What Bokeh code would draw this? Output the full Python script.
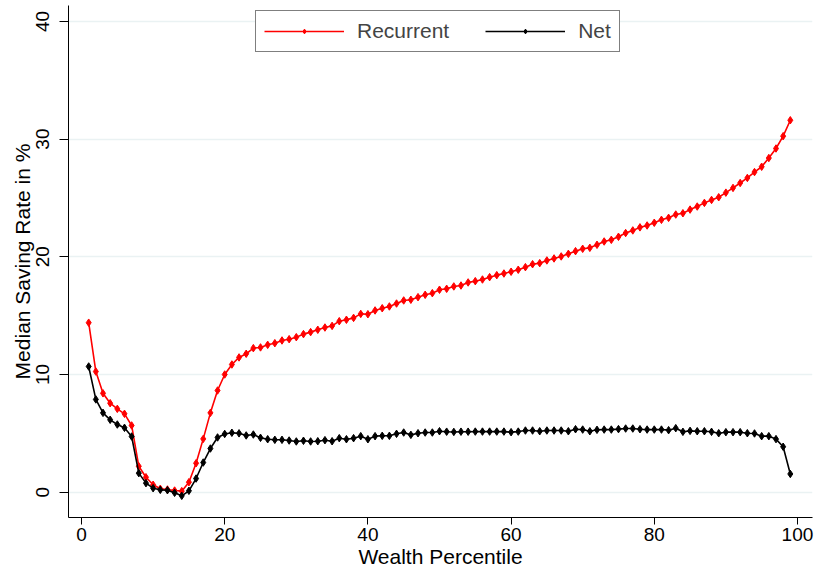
from bokeh.plotting import figure
from bokeh.models import Legend, LegendItem, Range1d, FixedTicker
from bokeh.embed import file_html
from bokeh.resources import INLINE

percentile = list(range(1, 100))

recurrent = [14.4, 10.25, 8.4, 7.56, 7.08, 6.66, 5.67, 2.2, 1.27, 0.63,
             0.29, 0.23, 0.14, 0.09, 0.85, 2.46, 4.53, 6.74, 8.64, 10.0,
             10.85, 11.45, 11.76, 12.24, 12.3, 12.52, 12.66, 12.89, 13.0, 13.17,
             13.43, 13.6, 13.8, 13.99, 14.13, 14.53, 14.65, 14.81, 15.15, 15.12,
             15.44, 15.63, 15.78, 16.03, 16.29, 16.35, 16.57, 16.77, 16.91, 17.2,
             17.28, 17.48, 17.56, 17.82, 17.93, 18.07, 18.27, 18.44, 18.58, 18.73,
             18.9, 19.12, 19.37, 19.46, 19.69, 19.86, 20.03, 20.25, 20.48, 20.68,
             20.76, 21.02, 21.3, 21.44, 21.7, 22.02, 22.24, 22.5, 22.66, 22.89,
             23.14, 23.31, 23.59, 23.7, 24.01, 24.27, 24.58, 24.83, 25.06, 25.45,
             25.85, 26.27, 26.7, 27.2, 27.65, 28.39, 29.2, 30.25, 31.6]

net = [10.68, 7.88, 6.74, 6.15, 5.75, 5.47, 4.73, 1.62, 0.77, 0.34,
       0.2, 0.17, -0.05, -0.31, 0.12, 1.16, 2.52, 3.71, 4.65, 4.95,
       5.05, 5.0, 4.82, 4.9, 4.62, 4.5, 4.45, 4.45, 4.39, 4.31,
       4.37, 4.31, 4.33, 4.42, 4.33, 4.59, 4.5, 4.59, 4.76, 4.5,
       4.76, 4.79, 4.79, 4.96, 5.07, 4.87, 5.01, 5.07, 5.07, 5.18,
       5.14, 5.12, 5.14, 5.14, 5.15, 5.15, 5.15, 5.15, 5.15, 5.1,
       5.15, 5.24, 5.24, 5.18, 5.24, 5.24, 5.24, 5.18, 5.35, 5.32,
       5.18, 5.3, 5.32, 5.32, 5.36, 5.41, 5.41, 5.35, 5.32, 5.32,
       5.32, 5.27, 5.44, 5.13, 5.21, 5.18, 5.18, 5.13, 5.01, 5.1,
       5.1, 5.1, 5.01, 4.99, 4.76, 4.76, 4.51, 3.86, 1.55]

x_ticks = [0, 20, 40, 60, 80, 100]
y_ticks = [0, 10, 20, 30, 40]

FONT = "Liberation Sans"

p = figure(width=816, height=572, output_backend="svg", toolbar_location=None,
           x_range=Range1d(-1.82, 102.1), y_range=Range1d(-2.15, 41.35),
           min_border_left=68, min_border_bottom=55, min_border_top=5, min_border_right=4)
p.outline_line_color = None
p.background_fill_color = "white"
p.border_fill_color = "white"

p.xgrid.visible = False
p.ygrid.grid_line_color = "#EAF2F3"
p.ygrid.grid_line_width = 1.5

p.xaxis.ticker = FixedTicker(ticks=x_ticks)
p.yaxis.ticker = FixedTicker(ticks=y_ticks)
for ax in (p.xaxis, p.yaxis):
    ax.axis_line_color = "black"
    ax.axis_line_width = 1
    ax.major_tick_line_color = "black"
    ax.major_tick_in = 0
    ax.minor_tick_line_color = None
    ax.major_label_text_font = FONT
    ax.major_label_text_font_size = "19px"
    ax.major_label_text_color = "black"
    ax.axis_label_text_font = FONT
    ax.axis_label_text_font_size = "21px"
    ax.axis_label_text_font_style = "normal"
    ax.axis_label_text_color = "black"

p.xaxis.axis_label = "Wealth Percentile"
p.xaxis.major_tick_out = 7
p.xaxis.major_label_standoff = 3
p.xaxis.axis_label_standoff = 1
p.yaxis.axis_label = "Median Saving Rate in %"
p.yaxis.major_label_orientation = "vertical"
p.yaxis.major_tick_out = 9
p.yaxis.major_label_standoff = 10
p.yaxis.axis_label_standoff = 0

r_line = p.line(percentile, recurrent, line_color="red", line_width=1.6)
r_pts = p.scatter(percentile, recurrent, marker="diamond", size=7.5,
                  fill_color="red", line_color="red")
n_line = p.line(percentile, net, line_color="black", line_width=1.6)
n_pts = p.scatter(percentile, net, marker="diamond", size=7.5,
                  fill_color="black", line_color="black")

legend = Legend(items=[LegendItem(label="Recurrent", renderers=[r_line, r_pts]),
                       LegendItem(label="Net", renderers=[n_line, n_pts])],
                orientation="horizontal", location=(187, 465))
legend.glyph_width = 80
legend.glyph_height = 12
legend.label_height = 22
legend.label_standoff = 13
legend.spacing = 36
legend.padding = 8
legend.margin = 0
legend.border_line_color = "black"
legend.border_line_width = 1
legend.label_text_font = FONT
legend.label_text_font_size = "21px"
legend.background_fill_alpha = 1
p.add_layout(legend, "center")

open("out.html", "w").write(file_html(p, INLINE))
